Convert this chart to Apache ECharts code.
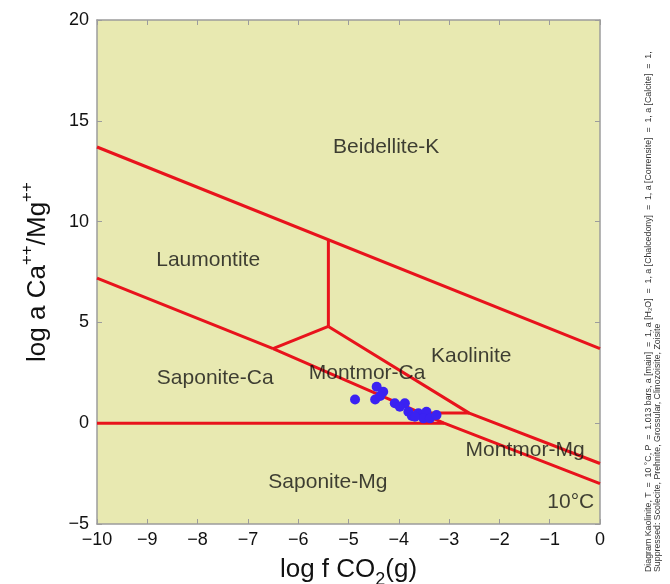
<!DOCTYPE html>
<html>
<head>
<meta charset="utf-8">
<script src="https://cdn.jsdelivr.net/npm/echarts@6/dist/echarts.min.js"></script>
<style>
  html, body { margin: 0; padding: 0; background: #fff; }
  #chart { width: 670px; height: 584px; }
</style>
</head>
<body>
<div id="chart"></div>
<script>
// 坐标轴刻度
const xTicks = [-10, -9, -8, -7, -6, -5, -4, -3, -2, -1, 0];
const yTicks = [-5, 0, 5, 10, 15, 20];

// 相界线 (log f CO2, log a Ca++/Mg++)
const bdkLine = [[-10, 13.7], [0, 3.7]];
const laumKaolLine = [[-5.4, 9.1], [-5.4, 4.8]];
const laumMontLine = [[-5.4, 4.8], [-6.5, 3.7]];
const laumSapLine = [[-10, 7.2], [-6.5, 3.7]];
const kaolMontLine = [[-5.4, 4.8], [-2.6, 0.5], [0, -2.0]];
const sapMontLine = [[-6.5, 3.7], [-3.1, 0.0], [0, -3.0]];
const sapCaMgLine = [[-10, 0], [-3.1, 0]];
const montCaMgLine = [[-3.55, 0.5], [-2.6, 0.5]];

// 样品点
const samples = [
  [-4.87, 1.18], [-4.44, 1.81], [-4.31, 1.56], [-4.47, 1.18], [-4.37, 1.35],
  [-4.08, 0.99], [-3.88, 0.99], [-3.98, 0.82], [-3.81, 0.57], [-3.74, 0.36],
  [-3.61, 0.49], [-3.45, 0.57], [-3.51, 0.24], [-3.38, 0.24], [-3.25, 0.41],
  [-3.68, 0.32]
];

// 区域名称
const fieldNames = ['Beidellite-K', 'Laumontite', 'Saponite-Ca', 'Montmor-Ca',
  'Kaolinite', 'Montmor-Mg', 'Saponite-Mg', '10°C'];
const fieldPos = [[-4.25, 13.7], [-7.79, 8.1], [-7.65, 2.24], [-4.63, 2.5],
  [-2.56, 3.33], [-1.49, -1.33], [-5.41, -2.92], [-0.58, -3.9]];

const noteLines = [
  'Diagram Kaolinite, T  =  10 °C, P  =  1.013 bars, a [main]  =  1, a [H\u2082O]  =  1, a [Chalcedony]  =  1, a [Corrensite]  =  1, a [Calcite]  =  1,',
  'Suppressed: Scolecite, Prehnite, Grossular, Clinozoisite, Zoisite'
];

const RED = '#e8131c';
const GREY = '#9c9c9c';
const minus = v => String(v).replace('-', '\u2212');

let boundaries = [bdkLine, laumKaolLine, laumMontLine, laumSapLine,
  kaolMontLine, sapMontLine, sapCaMgLine, montCaMgLine];

let lineSeries = boundaries.map(d => ({
  type: 'line',
  data: d,
  symbol: 'none',
  silent: true,
  lineStyle: { color: RED, width: 3 },
  z: 3
}));

let chart = echarts.init(document.getElementById('chart'));

let axisCommon = {
  axisLine: { show: true, onZero: false, lineStyle: { color: GREY, width: 1.5 } },
  axisTick: { show: true, inside: true, length: 5, lineStyle: { color: GREY } },
  splitLine: { show: false }
};

chart.setOption({
  animation: false,
  backgroundColor: '#fff',
  textStyle: { fontFamily: 'Liberation Sans, Arial, sans-serif' },
  grid: {
    left: 97, right: 70, top: 20, bottom: 60,
    outerBoundsMode: 'none',
    containLabel: false,
    show: true, backgroundColor: '#e8e9b1', borderWidth: 0
  },
  xAxis: [
    Object.assign({}, axisCommon, {
      type: 'value', min: -10, max: 0, interval: 1, position: 'bottom',
      axisLabel: { fontSize: 18, color: '#111', margin: 7, formatter: minus },
      name: '{n|log f CO}{b|2}{n|(g)}',
      nameLocation: 'middle', nameGap: 29,
      nameTextStyle: {
        rich: {
          n: { fontSize: 26, color: '#111', lineHeight: 34, verticalAlign: 'middle' },
          b: { fontSize: 18, color: '#111', lineHeight: 34, verticalAlign: 'bottom', padding: [0, 0, -2, 0] }
        }
      }
    }),
    Object.assign({}, axisCommon, {
      type: 'value', min: -10, max: 0, interval: 1, position: 'top',
      axisLabel: { show: false }
    })
  ],
  yAxis: [
    Object.assign({}, axisCommon, {
      type: 'value', min: -5, max: 20, interval: 5, position: 'left',
      axisLabel: { fontSize: 18, color: '#111', margin: 8, formatter: minus },
      name: '{n|log a Ca}{s|++}{n|/Mg}{s|++}',
      nameLocation: 'middle', nameGap: 46, nameRotate: 90,
      nameTextStyle: {
        rich: {
          n: { fontSize: 26, color: '#111', lineHeight: 32, verticalAlign: 'bottom' },
          s: { fontSize: 17, color: '#111', lineHeight: 32, verticalAlign: 'top' }
        }
      }
    }),
    Object.assign({}, axisCommon, {
      type: 'value', min: -5, max: 20, interval: 5, position: 'right',
      axisLabel: { show: false }
    })
  ],
  series: lineSeries.concat([
    {
      type: 'scatter',
      data: samples,
      symbol: 'circle',
      symbolSize: 10,
      silent: true,
      itemStyle: { color: '#3a22f2', opacity: 1 },
      z: 4
    },
    {
      type: 'scatter',
      data: fieldPos.map((p, i) => ({ value: p, name: fieldNames[i] })),
      symbolSize: 0,
      silent: true,
      label: {
        show: true, position: 'inside', formatter: '{b}',
        fontSize: 21, color: '#111', textBorderWidth: 0
      },
      z: 5
    }
  ]),
  graphic: noteLines.map((t, i) => ({
    type: 'text',
    x: 649 + i * 9,
    y: 572,
    rotation: Math.PI / 2,
    style: { text: t, fontSize: 8.8, fill: '#333', fontFamily: 'Liberation Sans, Arial, sans-serif', verticalAlign: 'middle' }
  }))
});
</script>
</body>
</html>
